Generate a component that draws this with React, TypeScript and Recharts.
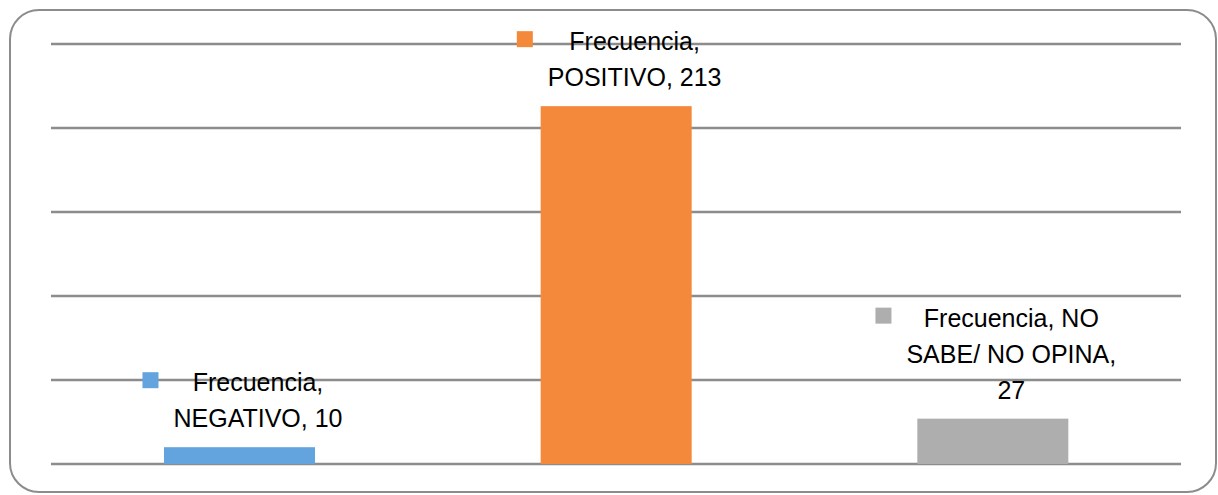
import React from 'react';
import { BarChart, Bar, XAxis, YAxis, CartesianGrid } from 'recharts';

const categories = ['NEGATIVO', 'POSITIVO', 'NO SABE/ NO OPINA'];
const frecuencia = [10, 213, 27];
const seriesName = 'Frecuencia';
const barColors = ['#63a3de', '#f5893b', '#aeaeae'];
const yTicks = [0, 50, 100, 150, 200, 250];

const data = categories.map((c, i) => ({ category: c, value: frecuencia[i], color: barColors[i] }));

const FONT_SIZE = 25;
const FONT_FAMILY = '"Liberation Sans", Arial, sans-serif';
const LINE_H = 36;
const MAX_CHARS = 15;

let ctx: CanvasRenderingContext2D | null = null;
function textWidth(s: string): number {
  if (!ctx) ctx = document.createElement('canvas').getContext('2d');
  if (!ctx) return s.length * FONT_SIZE * 0.55;
  ctx.font = `${FONT_SIZE}px ${FONT_FAMILY}`;
  return ctx.measureText(s).width;
}

function wrap(text: string): string[] {
  const words = text.split(' ');
  const lines: string[] = [];
  let cur = '';
  for (const w of words) {
    const next = cur ? cur + ' ' + w : w;
    if (next.length > MAX_CHARS && cur) {
      lines.push(cur);
      cur = w;
    } else {
      cur = next;
    }
  }
  if (cur) lines.push(cur);
  return lines;
}

const BarWithLabel = (props: any) => {
  const { x, y, width, height, payload, index } = props;
  const color = (payload && payload.color) || barColors[index] || '#888';
  const cat = (payload && payload.category) || categories[index];
  const val = payload ? payload.value : frecuencia[index];
  const lines = wrap(`${seriesName}, ${cat}, ${val}`);
  const W = Math.max(...lines.map(textWidth));
  const cx = x + width / 2 + 3;
  const boxLeft = cx - (31 + W) / 2;
  const textCx = boxLeft + 31 + W / 2;
  const lastCenter = y - 29;
  const firstCenter = lastCenter - LINE_H * (lines.length - 1);
  return (
    <g>
      <rect x={x} y={y} width={width} height={height} fill={color} />
      <rect x={boxLeft} y={firstCenter - 2 - 8} width={16} height={16} fill={color} />
      <text textAnchor="middle" fontFamily={FONT_FAMILY} fontSize={FONT_SIZE} fill="#000">
        {lines.map((l, i) => (
          <tspan key={i} x={textCx} y={firstCenter + i * LINE_H + 9}>
            {l}
          </tspan>
        ))}
      </text>
    </g>
  );
};

export default function App() {
  return (
    <div style={{ position: 'absolute', left: 0, top: 0, width: 1218, height: 495, background: '#fff' }}>
      <div
        style={{
          position: 'absolute',
          left: 9,
          top: 9,
          width: 1208,
          height: 484,
          boxSizing: 'border-box',
          border: '2px solid #8c8c8c',
          borderRadius: 30,
        }}
      />
      <div style={{ position: 'absolute', left: 0, top: 0 }}>
        <BarChart
          width={1218}
          height={495}
          data={data}
          margin={{ top: 44, right: 37, bottom: 31, left: 51 }}
          barSize={151}
        >
          <CartesianGrid vertical={false} horizontal stroke="#8c8c8c" strokeWidth={2.5} />
          <XAxis dataKey="category" hide />
          <YAxis hide domain={[0, 250]} ticks={yTicks} />
          <Bar dataKey="value" isAnimationActive={false} shape={BarWithLabel} />
        </BarChart>
      </div>
    </div>
  );
}
